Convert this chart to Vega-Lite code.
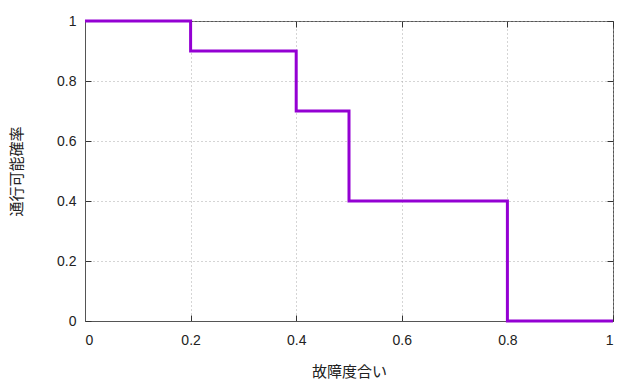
{
  "$schema": "https://vega.github.io/schema/vega-lite/v6.json",
  "autosize": {"type": "none"},
  "width": 528,
  "height": 300,
  "padding": {"left": 85, "top": 21, "right": 6, "bottom": 59},
  "background": "white",
  "config": {
    "view": {"stroke": "#555555", "strokeWidth": 1},
    "axis": {
      "labelFont": "Liberation Sans",
      "labelFontSize": 14,
      "labelColor": "#222222",
      "titleFont": "Noto Sans CJK JP",
      "titleFontSize": 15,
      "titleFontWeight": "normal",
      "titleColor": "#222222",
      "gridColor": "#aaaaaa",
      "gridDash": [1, 3],
      "gridWidth": 1,
      "domainColor": "#555555",
      "tickColor": "#333333",
      "tickSize": -6,
      "tickWidth": 1
    }
  },
  "data": {
    "values": [
      {"x": 0, "y": 1},
      {"x": 0.2, "y": 0.9},
      {"x": 0.4, "y": 0.7},
      {"x": 0.5, "y": 0.4},
      {"x": 0.8, "y": 0},
      {"x": 1, "y": 0}
    ]
  },
  "resolve": {"axis": {"x": "independent", "y": "independent"}},
  "layer": [
    {
      "mark": {"type": "line", "interpolate": "step-after", "color": "#9400D3", "strokeWidth": 3},
      "encoding": {
        "x": {
          "field": "x", "type": "quantitative",
          "scale": {"domain": [0, 1], "nice": false},
          "axis": {"title": "故障度合い", "values": [0, 0.2, 0.4, 0.6, 0.8, 1], "format": "~g", "labelPadding": 18, "titlePadding": 17, "grid": true}
        },
        "y": {
          "field": "y", "type": "quantitative",
          "scale": {"domain": [0, 1], "nice": false},
          "axis": {"title": "通行可能確率", "values": [0, 0.2, 0.4, 0.6, 0.8, 1], "format": "~g", "labelPadding": 15, "titlePadding": 32, "grid": true}
        }
      }
    },
    {
      "mark": {"type": "point", "opacity": 0},
      "encoding": {
        "x": {
          "field": "x", "type": "quantitative",
          "axis": {"orient": "top", "title": null, "labels": false, "grid": false, "domain": false, "values": [0, 0.2, 0.4, 0.6, 0.8, 1]}
        },
        "y": {
          "field": "y", "type": "quantitative",
          "axis": {"orient": "right", "title": null, "labels": false, "grid": false, "domain": false, "values": [0, 0.2, 0.4, 0.6, 0.8, 1]}
        }
      }
    }
  ]
}
